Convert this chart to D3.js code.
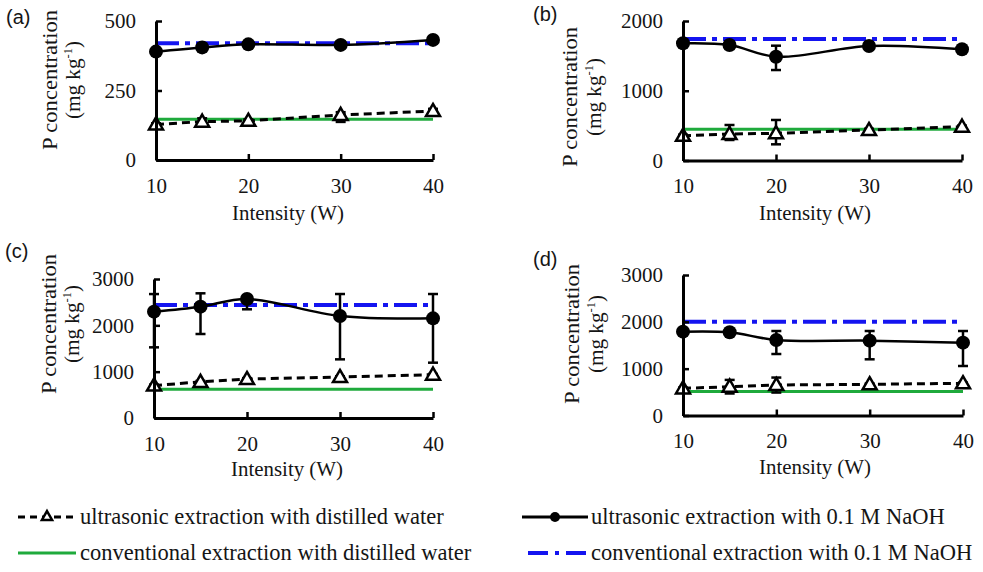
<!DOCTYPE html>
<html><head><meta charset="utf-8">
<script src="https://cdn.jsdelivr.net/npm/d3@7"></script>
<style>
body{margin:0;background:#fff} svg{display:block}
svg text{font-family:"Liberation Serif","Times New Roman","DejaVu Serif",serif !important;}
svg text.sans{font-family:"Liberation Sans",Arial,sans-serif !important;}
</style>
</head><body><svg id="chart" width="983" height="572"></svg>
<script>
// ---------- data ----------
const intensity = [10, 15, 20, 30, 40];
const xTickValues = [10, 20, 30, 40];
const panelLabels = ["(a)", "(b)", "(c)", "(d)"];
const yMaxValues = [500, 2000, 3000, 3000];
const yTicksA = [0, 250, 500];
const yTicksB = [0, 1000, 2000];
const yTicksC = [0, 1000, 2000, 3000];
const yTicksD = [0, 1000, 2000, 3000];

// ultrasonic extraction with 0.1 M NaOH: mean, lower and upper error bar ends
const naohA = [390, 405, 416, 414, 432];
const naohA_lo = [382, 392, 405, 403, 423];
const naohA_hi = [398, 418, 427, 425, 441];
const naohB = [1680, 1656, 1488, 1642, 1594];
const naohB_lo = [1665, 1600, 1297, 1620, 1575];
const naohB_hi = [1695, 1710, 1646, 1662, 1612];
const naohC = [2295, 2403, 2568, 2201, 2151];
const naohC_lo = [1525, 1813, 2346, 1266, 1194];
const naohC_hi = [2675, 2691, 2618, 2676, 2676];
const naohD = [1790, 1776, 1612, 1598, 1555];
const naohD_lo = [1770, 1720, 1313, 1200, 1057];
const naohD_hi = [1810, 1830, 1804, 1804, 1804];

// ultrasonic extraction with distilled water: mean, lower and upper error bar ends
const waterA = [128, 138, 141, 162, 176];
const waterA_lo = [124, 130, 136, 137, 168];
const waterA_hi = [132, 150, 146, 172, 184];
const waterB = [355, 380, 390, 437, 485];
const waterB_lo = [340, 294, 232, 420, 470];
const waterB_hi = [370, 509, 581, 455, 500];
const waterC = [700, 780, 840, 885, 935];
const waterC_lo = [680, 760, 820, 870, 920];
const waterC_hi = [720, 800, 860, 900, 950];
const waterD = [580, 615, 651, 666, 687];
const waterD_lo = [565, 470, 490, 650, 672];
const waterD_hi = [595, 760, 810, 682, 702];

// conventional extraction (constant reference levels)
const convWater = [147, 447, 620, 510];
const convNaOH = [420, 1742, 2440, 2000];

const legendLabels = [
  "ultrasonic extraction with distilled water",
  "ultrasonic extraction with 0.1 M NaOH",
  "conventional extraction with distilled water",
  "conventional extraction with 0.1 M NaOH"
];

// ---------- layout ----------
const svg = d3.select("#chart");
const GREEN = "#1faa3c";
const BLUE = "#1414f0";
const INK = "#151515";

const layouts = [
  {x0:156, x1:433, top:21,  bot:160,   lab:[6,24],    yl1:57,  yl2:80,  ylc:80,  titleX:288, titleBase:220},
  {x0:683, x1:962, top:21,  bot:160.5, lab:[533,21],  yl1:577, yl2:601, ylc:97,  titleX:815, titleBase:220},
  {x0:154, x1:433, top:279, bot:418,   lab:[5,258],   yl1:56,  yl2:79,  ylc:324, titleX:287, titleBase:476},
  {x0:683, x1:963, top:275, bot:415.5, lab:[533,266], yl1:579, yl2:603, ylc:334, titleX:815, titleBase:474}
];

const panels = [
  {yTicks:yTicksA, naoh:naohA, nlo:naohA_lo, nhi:naohA_hi, water:waterA, wlo:waterA_lo, whi:waterA_hi},
  {yTicks:yTicksB, naoh:naohB, nlo:naohB_lo, nhi:naohB_hi, water:waterB, wlo:waterB_lo, whi:waterB_hi},
  {yTicks:yTicksC, naoh:naohC, nlo:naohC_lo, nhi:naohC_hi, water:waterC, wlo:waterC_lo, whi:waterC_hi},
  {yTicks:yTicksD, naoh:naohD, nlo:naohD_lo, nhi:naohD_hi, water:waterD, wlo:waterD_lo, whi:waterD_hi}
];

const triSym = d3.symbol().type(d3.symbolTriangle).size(85);

panels.forEach((p, i) => {
  const L = layouts[i];
  const x = d3.scaleLinear().domain([10, 40]).range([L.x0, L.x1]);
  const y = d3.scaleLinear().domain([0, yMaxValues[i]]).range([L.bot, L.top]);
  const g = svg.append("g");

  // conventional reference lines
  g.append("line").attr("x1", x(10)).attr("x2", x(40))
    .attr("y1", y(convWater[i])).attr("y2", y(convWater[i]))
    .attr("stroke", GREEN).attr("stroke-width", 3);
  g.append("line").attr("x1", x(10)).attr("x2", x(40))
    .attr("y1", y(convNaOH[i])).attr("y2", y(convNaOH[i]))
    .attr("stroke", BLUE).attr("stroke-width", 4)
    .attr("stroke-dasharray", "23,6,5,6");

  const pts = (vals) => intensity.map((t, k) => ({t, v: vals[k], k}));
  const errBars = (vals, lo, hi) => {
    const eg = g.append("g").attr("stroke", "#000").attr("stroke-width", 2.5);
    pts(vals).forEach(d => {
      const cx = x(d.t), ya = y(lo[d.k]), yb = y(hi[d.k]);
      eg.append("line").attr("x1", cx).attr("x2", cx).attr("y1", ya).attr("y2", yb);
      eg.append("line").attr("x1", cx - 5).attr("x2", cx + 5).attr("y1", ya).attr("y2", ya);
      eg.append("line").attr("x1", cx - 5).attr("x2", cx + 5).attr("y1", yb).attr("y2", yb);
    });
  };

  // ultrasonic water: dashed line, error bars, open triangles
  g.append("path").datum(pts(p.water))
    .attr("d", d3.line().x(d => x(d.t)).y(d => y(d.v)))
    .attr("fill", "none").attr("stroke", "#000").attr("stroke-width", 3)
    .attr("stroke-dasharray", "8,5");
  errBars(p.water, p.wlo, p.whi);
  g.selectAll(".tri").data(pts(p.water)).join("path")
    .attr("d", triSym).attr("transform", d => `translate(${x(d.t)},${y(d.v) + 1})`)
    .attr("fill", "#fff").attr("stroke", "#000").attr("stroke-width", 2.5);

  // ultrasonic NaOH: smooth solid line, error bars, filled circles
  g.append("path").datum(pts(p.naoh))
    .attr("d", d3.line().x(d => x(d.t)).y(d => y(d.v)).curve(d3.curveCatmullRom.alpha(0.5)))
    .attr("fill", "none").attr("stroke", "#000").attr("stroke-width", 2.5);
  errBars(p.naoh, p.nlo, p.nhi);
  g.selectAll(".dot").data(pts(p.naoh)).join("circle")
    .attr("cx", d => x(d.t)).attr("cy", d => y(d.v)).attr("r", 7).attr("fill", "#000");

  // axes
  const ya = d3.axisLeft(y).tickValues(p.yTicks).tickFormat(d3.format("d"))
    .tickSizeInner(-6).tickSizeOuter(0).tickPadding(20);
  const ag = g.append("g").attr("transform", `translate(${L.x0},0)`).call(ya);
  const xa = d3.axisBottom(x).tickValues(xTickValues).tickFormat(d3.format("d"))
    .tickSizeInner(-6).tickSizeOuter(0).tickPadding(18);
  const bg = g.append("g").attr("transform", `translate(0,${L.bot})`).call(xa);
  [ag, bg].forEach(a => {
    a.attr("font-family", null);
    a.select(".domain").attr("stroke", "#000").attr("stroke-width", 3);
    a.selectAll(".tick line").attr("stroke", "#000").attr("stroke-width", 2.5);
    a.selectAll("text").attr("font-size", 21).attr("fill", INK);
  });

  // titles
  g.append("text").attr("x", L.titleX).attr("y", L.titleBase).attr("text-anchor", "middle")
    .attr("font-size", 21).attr("fill", INK)
    .attr("textLength", 112).attr("lengthAdjust", "spacingAndGlyphs").text("Intensity (W)");
  g.append("text").attr("transform", `translate(${L.yl1},${L.ylc}) rotate(-90)`)
    .attr("text-anchor", "middle").attr("font-size", 22).attr("fill", INK)
    .attr("textLength", 140).attr("lengthAdjust", "spacingAndGlyphs")
    .text("P concentration");
  const t2 = g.append("text").attr("transform", `translate(${L.yl2},${L.ylc}) rotate(-90)`)
    .attr("text-anchor", "middle").attr("font-size", 22).attr("fill", INK)
    .attr("textLength", 78).attr("lengthAdjust", "spacingAndGlyphs");
  t2.append("tspan").text("(mg kg");
  t2.append("tspan").attr("font-size", 13).attr("dy", -8).text("-1");
  t2.append("tspan").attr("dy", 8).text(")");
  g.append("text").attr("class", "sans").attr("x", L.lab[0]).attr("y", L.lab[1])
    .attr("font-size", 20).attr("fill", INK).text(panelLabels[i]);
});

// ---------- legend ----------
const lg = svg.append("g");
const row1 = 517, row2 = 553;
lg.append("line").attr("x1", 18).attr("x2", 76).attr("y1", row1).attr("y2", row1)
  .attr("stroke", "#000").attr("stroke-width", 3).attr("stroke-dasharray", "7,5");
lg.append("path").attr("d", d3.symbol().type(d3.symbolTriangle).size(45))
  .attr("transform", `translate(47,${row1})`).attr("fill", "#fff").attr("stroke", "#000").attr("stroke-width", 2.5);
lg.append("line").attr("x1", 522).attr("x2", 588).attr("y1", row1).attr("y2", row1)
  .attr("stroke", "#000").attr("stroke-width", 3);
lg.append("circle").attr("cx", 555).attr("cy", row1).attr("r", 5).attr("fill", "#000");
lg.append("line").attr("x1", 18).attr("x2", 76).attr("y1", row2).attr("y2", row2)
  .attr("stroke", GREEN).attr("stroke-width", 3);
lg.append("line").attr("x1", 528).attr("x2", 588).attr("y1", row2).attr("y2", row2)
  .attr("stroke", BLUE).attr("stroke-width", 4).attr("stroke-dasharray", "20,7,4,7");
const legPos = [[80, row1], [591, row1], [80, row2], [591, row2]];
legendLabels.forEach((s, k) => {
  lg.append("text").attr("x", legPos[k][0]).attr("y", legPos[k][1]).attr("dy", "0.33em")
    .attr("font-size", 22.5).attr("fill", INK).text(s);
});
</script>
</body></html>
